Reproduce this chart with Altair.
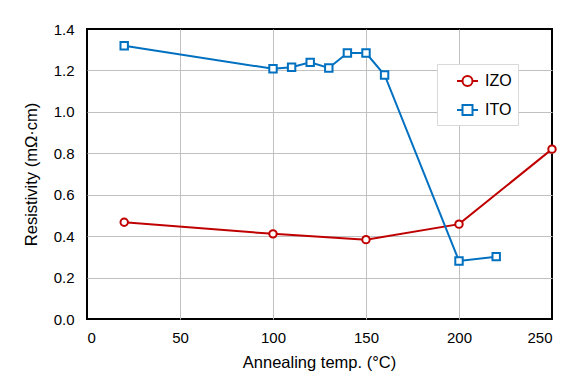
import altair as alt
import pandas as pd

izo_temp = [20, 100, 150, 200, 250]
izo_res = [0.467, 0.411, 0.383, 0.458, 0.820]
ito_temp = [20, 100, 110, 120, 130, 140, 150, 160, 200, 220]
ito_res = [1.319, 1.208, 1.215, 1.239, 1.212, 1.284, 1.284, 1.178, 0.280, 0.301]
series = ["IZO", "ITO"]
colors = ["#C00000", "#0070C0"]
x_ticks = [0, 50, 100, 150, 200, 250]
y_ticks = [0, 0.2, 0.4, 0.6, 0.8, 1.0, 1.2, 1.4]

df = pd.DataFrame(
    {"temp": izo_temp + ito_temp,
     "res": izo_res + ito_res,
     "series": ["IZO"] * len(izo_temp) + ["ITO"] * len(ito_temp)}
)

FONT = "Liberation Sans"

x = alt.X("temp:Q", scale=alt.Scale(domain=[0, 250], nice=False),
          axis=alt.Axis(values=x_ticks, title="Annealing temp. (°C)",
                        titleX=232, titleY=43, titleBaseline="middle",
                        gridOpacity={"condition": {"test": "datum.value == 0 || datum.value == 250", "value": 0}, "value": 1}))
y = alt.Y("res:Q", scale=alt.Scale(domain=[0, 1.4], nice=False),
          axis=alt.Axis(values=y_ticks, format=".1f",
                        title="Resistivity (mΩ·cm)", titleX=-56, titleY=145,
                        titleAngle=-90, titleAlign="center", titleBaseline="middle",
                        gridOpacity={"condition": {"test": "datum.value == 0 || datum.value == 1.4", "value": 0}, "value": 1}))

stroke_scale = alt.Scale(domain=series, range=colors)

lines = alt.Chart(df).mark_line(strokeWidth=2).encode(
    x=x, y=y,
    stroke=alt.Stroke("series:N", scale=stroke_scale, legend=None),
    detail="series:N",
)

points = alt.Chart(df).mark_point(filled=True, fill="white", strokeWidth=2, size=55, opacity=1).encode(
    x=x, y=y,
    stroke=alt.Stroke("series:N", scale=stroke_scale, legend=None),
    shape=alt.Shape("series:N", scale=alt.Scale(domain=series, range=["circle", "square"]), legend=None),
)

izo_path = "M0.3,0H0.85M1.85,0H2.4M1.85,0A0.5,0.5,0,1,1,0.85,0A0.5,0.5,0,1,1,1.85,0Z"
ito_path = "M0.3,0H0.85M1.85,0H2.4M0.85,-0.5H1.85V0.5H0.85Z"

legend_layer = alt.Chart(df).transform_filter("datum.temp < 0").mark_point(
    filled=True, fill="white", strokeWidth=2, opacity=1
).encode(
    x=x, y=y,
    stroke=alt.Stroke("series:N", scale=alt.Scale(domain=series, range=colors),
                      legend=alt.Legend(title=None, orient="none", legendX=350, legendY=35,
                                        padding=6, fillColor="white", strokeColor="#d9d9d9",
                                        symbolSize=400, symbolStrokeWidth=2, rowPadding=9,
                                        labelOffset=20, labelFontSize=16, labelFont=FONT,
                                        labelColor="#000000")),
    shape=alt.Shape("series:N", scale=alt.Scale(domain=series, range=[izo_path, ito_path]),
                    legend=alt.Legend(title=None, orient="none", legendX=350, legendY=35)),
)

chart = alt.layer(lines, points, legend_layer).resolve_scale(
    stroke="independent", shape="independent"
).properties(
    width=465, height=290,
    autosize=alt.AutoSizeParams(type="none"),
    padding={"left": 87, "top": 29, "right": 30, "bottom": 58},
    background="white",
).configure_view(
    stroke="black", strokeWidth=2
).configure_axis(
    grid=True, gridColor="#c0c0c0", gridWidth=1, domain=False, ticks=False,
    labelFont=FONT, labelFontSize=15, labelColor="#000000",
    titleFont=FONT, titleFontSize=16.5, titleColor="#000000", titleFontWeight="normal",
).configure_axisX(labelPadding=11).configure_axisY(labelPadding=13)

chart.save("out.html", embed_options={"renderer": "svg", "actions": False})
